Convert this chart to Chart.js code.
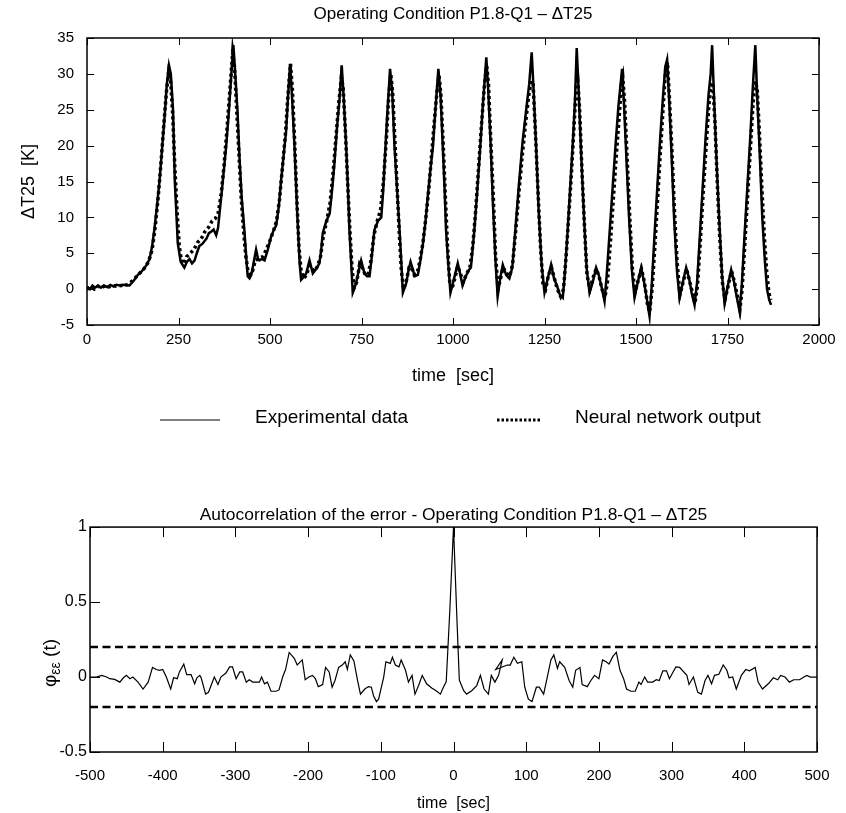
<!DOCTYPE html>
<html>
<head>
<meta charset="utf-8">
<script src="https://cdn.jsdelivr.net/npm/chart.js@4.4.1/dist/chart.umd.min.js"></script>
<style>
  body { margin: 0; background: #fff; }
  #wrap { position: relative; width: 846px; height: 813px; }
  #chart { position: absolute; left: 0; top: 0; }
  #acf { position: absolute; left: 0; top: 480px; }
</style>
</head>
<body>
<div id="wrap">
  <canvas id="chart" width="846" height="450"></canvas>
  <canvas id="acf" width="846" height="333"></canvas>
</div>
<script>
// --- top chart: Delta T25 vs time ---
const expTime = [
  0, 8, 15, 22, 30, 38, 46, 55, 64, 72,
  80, 90, 100, 116, 128, 139, 150, 162, 171, 178,
  184, 191, 198, 205, 212, 218, 224, 229, 235, 240,
  244, 248, 256, 266, 273, 280, 287, 294, 300, 307,
  315, 326, 333, 339, 346, 353, 358, 362, 370, 380,
  388, 395, 400, 405, 411, 417, 423, 430, 435, 439,
  444, 449, 455, 462, 467, 471, 478, 485, 494, 503,
  510, 517, 524, 530, 537, 544, 550, 555, 560, 567,
  574, 581, 585, 592, 599, 604, 608, 613, 617, 626,
  635, 640, 644, 654, 663, 670, 676, 683, 690, 696,
  701, 708, 713, 717, 722, 726, 735, 742, 749, 754,
  758, 765, 772, 778, 785, 795, 804, 809, 813, 820,
  828, 834, 840, 847, 854, 859, 863, 872, 878, 884,
  890, 895, 904, 911, 918, 925, 931, 938, 945, 952,
  960, 966, 972, 977, 981, 987, 993, 1003, 1013, 1020,
  1026, 1035, 1044, 1049, 1058, 1066, 1074, 1082, 1091, 1096,
  1103, 1109, 1116, 1122, 1129, 1136, 1145, 1154, 1162, 1170,
  1180, 1190, 1200, 1208, 1215, 1220, 1227, 1234, 1242, 1250,
  1259, 1268, 1276, 1284, 1292, 1300, 1306, 1313, 1320, 1328,
  1333, 1338, 1343, 1350, 1358, 1365, 1373, 1382, 1391, 1398,
  1405, 1414, 1420, 1428, 1436, 1444, 1452, 1462, 1467, 1474,
  1481, 1489, 1496, 1505, 1514, 1522, 1530, 1537, 1543, 1550,
  1558, 1566, 1574, 1580, 1585, 1590, 1597, 1604, 1612, 1619,
  1628, 1637, 1645, 1652, 1660, 1667, 1674, 1682, 1690, 1698,
  1704, 1708, 1713, 1720, 1727, 1735, 1742, 1751, 1760, 1768,
  1775, 1783, 1789, 1796, 1804, 1812, 1819, 1826, 1831, 1838,
  1845, 1852, 1858, 1864, 1869
]
const expTemp = [
  0.3, 0.0, 0.5, 0.2, 0.5, 0.2, 0.5, 0.3, 0.6, 0.4,
  0.6, 0.5, 0.6, 0.5, 1.2, 2.0, 2.5, 3.3, 4.2, 6.0,
  8.3, 11.5, 15.0, 19.5, 24.0, 28.5, 31.2, 30.0, 25.0, 15.0,
  10.8, 6.4, 3.8, 3.0, 3.8, 4.2, 3.6, 4.0, 5.0, 6.0,
  6.3, 7.0, 7.8, 8.0, 8.3, 7.5, 8.5, 10.5, 14.5, 19.8,
  25.0, 30.5, 34.0, 30.0, 25.0, 18.0, 12.5, 8.2, 4.5, 1.8,
  1.5, 2.0, 3.6, 5.5, 4.3, 4.0, 4.2, 4.0, 5.5, 7.3,
  8.2, 8.9, 11.5, 15.0, 18.5, 22.0, 27.5, 31.4, 27.0, 19.8,
  11.0, 3.6, 1.3, 1.7, 2.2, 3.2, 4.0, 3.0, 2.2, 2.8,
  3.6, 5.5, 7.8, 9.5, 10.5, 14.0, 17.5, 22.5, 26.5, 31.2,
  27.0, 20.0, 14.0, 8.2, 3.5, -0.5, 0.8, 2.5, 4.0, 3.0,
  2.2, 1.8, 1.8, 4.5, 8.2, 9.5, 10.0, 13.5, 17.5, 24.0,
  30.7, 27.5, 20.0, 14.0, 8.2, 3.5, -0.5, 0.8, 2.5, 3.8,
  2.8, 1.8, 2.0, 4.0, 6.4, 9.5, 12.9, 16.5, 19.8, 25.0,
  30.7, 27.0, 20.0, 14.0, 8.2, 3.5, -0.5, 1.5, 3.6, 2.0,
  0.5, 1.8, 2.7, 3.0, 8.0, 13.5, 19.5, 26.0, 32.3, 28.0,
  20.0, 12.0, 4.0, -1.0, 1.5, 3.4, 2.0, 1.5, 3.0, 8.0,
  14.5, 20.5, 25.0, 28.5, 33.0, 28.0, 20.0, 11.0, 3.5, -0.5,
  1.5, 3.4, 1.5, 0.5, -0.8, -1.2, 2.5, 8.0, 14.0, 21.0,
  26.0, 33.6, 28.0, 19.0, 10.0, 3.0, -0.5, 1.0, 3.0, 2.0,
  0.5, -1.7, 2.0, 8.0, 14.0, 20.0, 25.5, 30.7, 26.0, 18.0,
  10.0, 2.5, -1.2, 1.0, 3.0, 1.0, -1.5, -3.8, 0.5, 7.0,
  14.0, 21.0, 27.0, 31.0, 32.0, 27.0, 19.0, 10.0, 2.5, -1.2,
  1.0, 3.0, 1.5, -0.5, -2.2, 1.0, 7.0, 14.0, 21.0, 27.0,
  30.0, 34.0, 27.0, 18.0, 10.0, 2.0, -2.0, 0.5, 2.7, 1.0,
  -1.0, -3.1, 0.5, 7.0, 14.0, 21.0, 28.0, 34.0, 27.0, 19.0,
  10.0, 4.0, 0.0, -1.5, -2.2
]
const nnTime = [
  0, 10, 20, 30, 40, 50, 60, 70, 80, 95,
  110, 125, 140, 155, 168, 178, 186, 194, 202, 210,
  217, 223, 228, 234, 240, 246, 252, 258, 264, 272,
  282, 292, 302, 312, 322, 332, 342, 350, 358, 366,
  374, 382, 390, 398, 403, 409, 415, 421, 428, 434,
  440, 446, 452, 460, 470, 480, 490, 500, 510, 518,
  526, 534, 542, 549, 556, 561, 567, 573, 579, 585,
  592, 600, 608, 615, 622, 630, 638, 646, 655, 664,
  672, 680, 688, 695, 700, 706, 712, 718, 724, 730,
  737, 745, 752, 760, 768, 776, 784, 793, 802, 810,
  818, 824, 830, 835, 841, 847, 853, 859, 865, 872,
  880, 887, 894, 902, 910, 918, 926, 934, 942, 950,
  957, 962, 967, 973, 979, 985, 991, 997, 1005, 1013,
  1020, 1028, 1036, 1046, 1054, 1062, 1070, 1078, 1086, 1092,
  1097, 1103, 1110, 1116, 1123, 1130, 1137, 1146, 1155, 1163,
  1172, 1181, 1190, 1199, 1207, 1214, 1219, 1225, 1232, 1239,
  1246, 1253, 1261, 1269, 1277, 1285, 1294, 1302, 1309, 1316,
  1324, 1331, 1337, 1341, 1346, 1352, 1359, 1366, 1374, 1382,
  1391, 1399, 1407, 1415, 1422, 1430, 1438, 1446, 1454, 1460,
  1464, 1469, 1476, 1483, 1490, 1497, 1506, 1515, 1523, 1531,
  1537, 1544, 1551, 1559, 1567, 1575, 1581, 1586, 1591, 1598,
  1605, 1612, 1620, 1629, 1638, 1646, 1653, 1661, 1668, 1675,
  1683, 1691, 1699, 1705, 1710, 1716, 1722, 1729, 1736, 1743,
  1752, 1761, 1769, 1777, 1784, 1790, 1797, 1805, 1813, 1820,
  1826, 1831, 1837, 1844, 1851, 1857, 1863, 1868
]
const nnTemp = [
  0.0, 0.3, 0.0, 0.4, 0.2, 0.5, 0.3, 0.5, 0.4, 0.5,
  0.6, 1.2, 2.0, 2.8, 3.8, 5.5, 8.5, 12.5, 17.5, 23.0,
  27.5, 30.3, 29.5, 24.5, 17.0, 11.0, 6.0, 4.0, 3.5, 4.5,
  5.0, 5.5, 6.5, 7.0, 8.0, 8.6, 9.5, 9.8, 10.5, 13.0,
  17.0, 22.0, 27.5, 33.0, 31.0, 25.0, 19.0, 13.0, 8.0, 4.5,
  2.5, 2.0, 2.5, 4.0, 4.3, 4.5, 5.5, 6.8, 8.2, 9.5,
  12.5, 17.0, 21.5, 27.0, 31.4, 28.0, 21.0, 13.0, 6.0, 2.5,
  1.5, 2.0, 3.3, 2.8, 2.5, 3.2, 4.5, 7.5, 9.5, 12.0,
  16.0, 21.0, 26.0, 29.5, 28.0, 22.0, 15.0, 8.5, 3.0, 0.2,
  1.0, 3.5, 3.0, 2.0, 2.0, 4.0, 7.5, 9.5, 11.0, 15.0,
  21.0, 26.5, 30.0, 27.5, 21.0, 14.5, 8.0, 2.5, 0.0, 1.0,
  3.0, 3.0, 2.0, 2.2, 4.0, 6.5, 10.0, 14.0, 19.0, 24.0,
  28.0, 29.8, 27.0, 20.5, 13.0, 6.0, 1.0, 0.0, 1.5, 3.2,
  2.2, 1.0, 2.0, 3.0, 6.0, 11.0, 17.0, 23.0, 28.5, 31.2,
  28.5, 21.0, 13.0, 5.0, 0.0, 1.5, 3.0, 2.2, 1.8, 3.5,
  8.5, 14.0, 19.0, 23.5, 27.0, 29.0, 28.5, 22.0, 14.0, 6.0,
  0.5, 0.0, 2.0, 3.0, 1.5, 0.0, -1.0, 0.0, 4.5, 10.0,
  16.5, 23.0, 28.5, 29.0, 25.0, 17.0, 9.0, 2.0, 0.0, 1.5,
  2.8, 1.8, 0.0, -1.2, 1.0, 6.5, 12.5, 18.5, 24.0, 28.5,
  29.5, 26.0, 18.0, 10.0, 3.0, -0.5, 1.2, 2.8, 1.0, -2.0,
  -3.2, 0.0, 5.5, 12.5, 19.5, 26.0, 30.5, 31.6, 27.0, 19.5,
  11.0, 4.0, -0.8, 1.0, 2.8, 1.2, -0.2, -2.0, 0.5, 6.0,
  13.0, 19.5, 25.5, 28.8, 28.5, 23.0, 15.0, 7.0, 1.0, -1.5,
  0.5, 2.5, 1.0, -1.0, -2.8, 0.0, 6.0, 13.0, 20.0, 26.0,
  29.0, 28.0, 22.0, 14.0, 7.0, 2.5, -0.5, -1.5
]

// --- bottom chart: autocorrelation of the error ---
const lagSec = [
  -500, -491, -484, -477, -473, -466, -459, -454, -450, -445,
  -441, -434, -427, -420, -414, -409, -404, -400, -395, -389,
  -385, -380, -377, -371, -367, -361, -356, -353, -349, -347,
  -341, -337, -329, -324, -320, -313, -308, -304, -299, -294,
  -290, -285, -281, -276, -272, -267, -264, -260, -256, -251,
  -244, -240, -235, -231, -226, -219, -215, -208, -204, -199,
  -194, -190, -186, -180, -176, -171, -167, -163, -158, -153,
  -149, -146, -142, -137, -132, -128, -122, -117, -113, -110,
  -106, -103, -96, -93, -87, -84, -80, -75, -72, -66,
  -62, -57, -53, -48, -43, -37, -30, -23, -18, -15,
  -10, -5, 0, 5, 8, 14, 18, 25, 32, 37,
  42, 48, 52, 57, 62, 67, 58, 74, 78, 83,
  88, 94, 98, 103, 108, 114, 118, 124, 129, 134,
  138, 143, 146, 153, 159, 164, 168, 174, 177, 184,
  189, 194, 200, 205, 210, 214, 219, 224, 229, 234,
  238, 244, 250, 255, 258, 263, 267, 274, 279, 283,
  288, 293, 297, 302, 306, 311, 318, 321, 324, 330,
  336, 341, 346, 350, 355, 359, 365, 371, 376, 379,
  384, 389, 396, 402, 407, 415, 419, 425, 433, 440,
  446, 450, 456, 462, 468, 476, 482, 486, 491, 500
]
const acfValue = [
  0, 0, 0.011, 0, -0.011, -0.016, -0.034, -0.005, 0.011, -0.011,
  0, -0.034, -0.08, -0.034, 0.064, 0.05, 0.045, 0.05, 0, -0.08,
  -0.005, -0.011, 0.034, 0.086, 0.016, 0.016, -0.045, -0.005, 0.011, -0.007,
  -0.114, -0.102, 0, -0.05, 0, 0.027, 0.068, 0.068, -0.011, 0.034,
  0.034, -0.034, -0.018, -0.034, -0.034, -0.034, 0, -0.045, -0.034, -0.095,
  -0.095, -0.086, 0, 0.05, 0.164, 0.125, 0.08, 0.114, -0.018, 0,
  0.011, -0.011, -0.064, -0.05, 0.064, 0.034, -0.068, -0.023, 0.064, 0.08,
  0.102, 0.05, 0.148, 0.107, -0.023, -0.114, -0.08, -0.064, -0.068, -0.125,
  -0.164, -0.148, 0, 0.102, 0.091, 0.132, 0.08, 0.068, 0.114, 0.045,
  -0.034, 0.011, -0.114, -0.057, 0.011, -0.045, -0.073, -0.095, -0.114, -0.08,
  -0.03, 0.45, 1, 0.35, -0.02, -0.091, -0.114, -0.091, -0.057, 0.011,
  -0.08, -0.114, 0.011, -0.034, 0.011, 0.114, 0.05, 0.08, 0.08, 0.132,
  0.091, 0.102, -0.068, -0.148, -0.164, -0.068, -0.068, -0.114, 0, 0.114,
  0.148, 0.057, 0.102, 0.064, -0.023, -0.068, 0.045, 0.064, -0.05, -0.064,
  -0.023, 0.011, -0.011, 0.114, 0.102, 0.086, 0.136, 0.164, 0.045, -0.011,
  -0.08, -0.095, -0.095, -0.034, -0.05, 0, -0.034, -0.034, -0.018, -0.023,
  0.041, 0.041, -0.011, 0.034, 0.068, 0.064, 0.027, 0.011, -0.05, 0,
  -0.102, -0.114, -0.023, 0.011, -0.045, 0.011, 0.018, 0.08, 0.045, -0.005,
  0, -0.08, 0.011, 0.05, 0.041, 0.064, -0.034, -0.08, -0.045, -0.005,
  -0.018, 0.011, 0, -0.034, -0.018, -0.018, 0, 0.011, 0, 0
]
const confBound = 0.2
const lagRange = [-500, 500]

const pts = (xs, ys) => xs.map((x, i) => ({ x, y: ys[i] }))
const plain = v => String(v)

Chart.defaults.font.family = "'Liberation Sans', Arial, sans-serif"
Chart.defaults.color = '#000'
Chart.defaults.animation = false

// box round the plot area + inward tick marks
const frame = {
  id: 'frame',
  afterDatasetsDraw(chart, args, opts) {
    const { ctx, chartArea: a, scales: { x, y } } = chart
    ctx.save()
    ctx.strokeStyle = '#000'
    ctx.lineWidth = opts.width
    ctx.strokeRect(a.left, a.top, a.right - a.left, a.bottom - a.top)
    ctx.lineWidth = 1
    ctx.beginPath()
    x.ticks.forEach(t => {
      const px = Math.round(x.getPixelForValue(t.value)) + 0.5
      ctx.moveTo(px, a.bottom); ctx.lineTo(px, a.bottom - opts.tick)
      ctx.moveTo(px, a.top); ctx.lineTo(px, a.top + opts.tick)
    })
    y.ticks.forEach(t => {
      const py = Math.round(y.getPixelForValue(t.value)) + 0.5
      ctx.moveTo(a.left, py); ctx.lineTo(a.left + opts.tick, py)
      if (opts.right) { ctx.moveTo(a.right, py); ctx.lineTo(a.right - opts.tick, py) }
    })
    ctx.stroke()
    ctx.restore()
  }
}

// legend under the top chart: line sample + label
const lineKey = {
  id: 'lineKey',
  afterDraw(chart, args, opts) {
    const { ctx } = chart
    ctx.save()
    ctx.font = opts.font
    ctx.fillStyle = '#000'
    ctx.textBaseline = 'middle'
    opts.items.forEach((it, i) => {
      const ds = chart.data.datasets[i]
      ctx.beginPath()
      ctx.strokeStyle = '#000'
      ctx.lineWidth = it.width
      ctx.setLineDash(it.dash)
      ctx.moveTo(it.x0, opts.y + 2)
      ctx.lineTo(it.x1, opts.y + 2)
      ctx.stroke()
      ctx.setLineDash([])
      ctx.fillText(ds.label, it.tx, opts.y)
    })
    ctx.restore()
  }
}

new Chart(document.getElementById('chart'), {
  type: 'line',
  data: {
    datasets: [
      {
        label: 'Experimental data',
        data: pts(expTime, expTemp),
        borderColor: '#000',
        borderWidth: 2.5,
        pointRadius: 0,
      },
      {
        label: 'Neural network output',
        data: pts(nnTime, nnTemp),
        borderColor: '#000',
        borderWidth: 3.5,
        borderDash: [3, 3],
        pointRadius: 0,
      },
    ],
  },
  options: {
    responsive: false,
    layout: { padding: { left: 0, right: 27, top: 0, bottom: 0 } },
    scales: {
      x: {
        type: 'linear',
        min: 0,
        max: 2000,
        ticks: { stepSize: 250, font: { size: 15 }, padding: 6, maxRotation: 0, callback: plain },
        grid: { display: false, drawTicks: false },
        border: { display: false },
        title: { display: true, text: 'time  [sec]', font: { size: 18 }, padding: { bottom: 63 } },
        afterFit(s) { s.height = 125 },
      },
      y: {
        min: -5,
        max: 35,
        ticks: { stepSize: 5, font: { size: 15 }, padding: 13, callback: plain },
        grid: { display: false, drawTicks: false },
        border: { display: false },
        title: { display: true, text: 'ΔT25  [K]', font: { size: 18 }, padding: { top: 18 } },
        afterFit(s) { s.width = 87 },
      },
    },
    plugins: {
      legend: { display: false },
      tooltip: { enabled: false },
      title: {
        display: true,
        text: 'Operating Condition P1.8-Q1 – ΔT25',
        fullSize: false,
        font: { size: 17, weight: 'normal' },
        padding: { top: 4, bottom: 13.6 },
      },
      frame: { width: 1.5, tick: 7, right: true },
      lineKey: {
        font: "19px 'Liberation Sans', Arial, sans-serif",
        y: 418,
        items: [
          { x0: 160, x1: 220, tx: 255, width: 1, dash: [] },
          { x0: 497, x1: 540, tx: 575, width: 3, dash: [2.5, 2] },
        ],
      },
    },
  },
  plugins: [frame, lineKey],
})

// rotated y title with subscript epsilon
const phiLabel = {
  id: 'phiLabel',
  afterDraw(chart, args, opts) {
    const { ctx } = chart
    ctx.save()
    ctx.translate(opts.x, opts.y)
    ctx.rotate(-Math.PI / 2)
    ctx.fillStyle = '#000'
    ctx.textBaseline = 'alphabetic'
    const big = "19px 'Liberation Sans', Arial, sans-serif"
    const small = "14px 'Liberation Sans', Arial, sans-serif"
    ctx.font = big
    const w1 = ctx.measureText('φ').width
    const w3 = ctx.measureText(' (t)').width
    ctx.font = small
    const w2 = ctx.measureText('εε').width
    let x = -(w1 + w2 + w3) / 2
    ctx.font = big
    ctx.fillText('φ', x, 6)
    x += w1
    ctx.font = small
    ctx.fillText('εε', x, 10)
    x += w2
    ctx.font = big
    ctx.fillText(' (t)', x, 6)
    ctx.restore()
  }
}

new Chart(document.getElementById('acf'), {
  type: 'line',
  data: {
    datasets: [
      {
        label: 'autocorrelation',
        data: pts(lagSec, acfValue),
        borderColor: '#000',
        borderWidth: 1.2,
        pointRadius: 0,
      },
      {
        label: 'upper bound',
        data: pts(lagRange, [confBound, confBound]),
        borderColor: '#000',
        borderWidth: 2.5,
        borderDash: [8, 4.5],
        pointRadius: 0,
      },
      {
        label: 'lower bound',
        data: pts(lagRange, [-confBound, -confBound]),
        borderColor: '#000',
        borderWidth: 2.5,
        borderDash: [8, 4.5],
        pointRadius: 0,
      },
    ],
  },
  options: {
    responsive: false,
    layout: { padding: { left: 0, right: 29, top: 0, bottom: 0 } },
    scales: {
      x: {
        type: 'linear',
        min: -500,
        max: 500,
        ticks: { stepSize: 100, font: { size: 15 }, padding: 15, maxRotation: 0, callback: plain },
        grid: { display: false, drawTicks: false },
        border: { display: false },
        title: { display: true, text: 'time  [sec]', font: { size: 16 }, padding: { bottom: 0 } },
        afterFit(s) { s.height = 61 },
      },
      y: {
        min: -0.5,
        max: 1,
        ticks: { stepSize: 0.5, font: { size: 16 }, padding: 3, callback: plain },
        grid: { display: false, drawTicks: false },
        border: { display: false },
        afterFit(s) { s.width = 90 },
      },
    },
    plugins: {
      legend: { display: false },
      tooltip: { enabled: false },
      title: {
        display: true,
        text: 'Autocorrelation of the error - Operating Condition P1.8-Q1 – ΔT25',
        fullSize: false,
        font: { size: 17.4, weight: 'normal' },
        padding: { top: 25, bottom: 1.2 },
      },
      frame: { width: 1.5, tick: 10, right: false },
      phiLabel: { x: 50, y: 183 },
    },
  },
  plugins: [frame, phiLabel],
})
</script>
</body>
</html>
